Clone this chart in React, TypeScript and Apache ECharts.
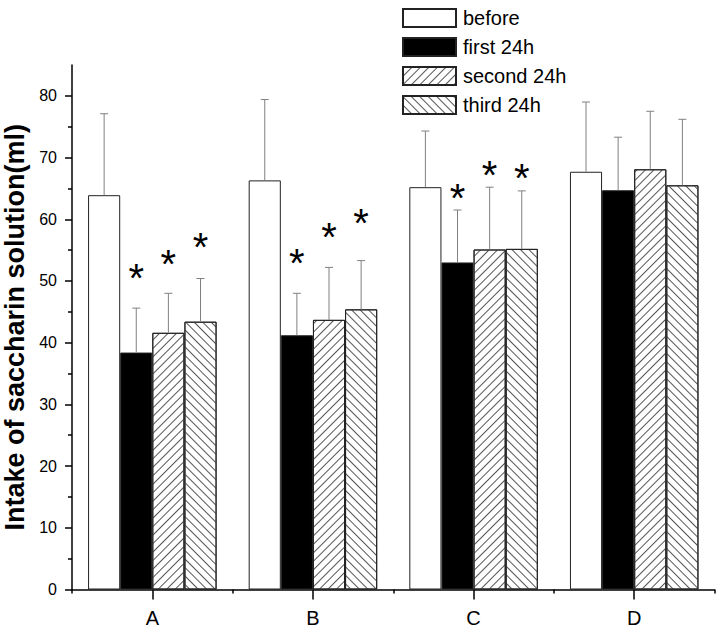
import React, { useEffect, useRef } from 'react';
import * as echarts from 'echarts';

const categories = ['A', 'B', 'C', 'D'];
const seriesNames = ['before', 'first 24h', 'second 24h', 'third 24h'];
const beforeVals = [63.9, 66.3, 65.2, 67.7];
const beforeErr = [13.2, 13.1, 9.1, 11.3];
const firstVals = [38.4, 41.2, 53.0, 64.7];
const firstErr = [7.2, 6.8, 8.5, 8.6];
const secondVals = [41.6, 43.7, 55.1, 68.1];
const secondErr = [6.4, 8.5, 10.1, 9.4];
const thirdVals = [43.4, 45.4, 55.2, 65.5];
const thirdErr = [7.0, 7.9, 9.4, 10.7];
// star (significance mark) centre values, null = no mark
const starFirst = [51.4, 53.8, 64.3, null];
const starSecond = [53.7, 58.0, 68.0, null];
const starThird = [56.3, 60.3, 67.6, null];
const yTickValues = [0, 10, 20, 30, 40, 50, 60, 70, 80];
const yMinorTickValues = [5, 15, 25, 35, 45, 55, 65, 75];

const FONT = "'Liberation Sans', Arial, sans-serif";

export default function App() {
  const ref = useRef<HTMLDivElement>(null);
  useEffect(() => {
    if (!ref.current) return;
    const chart = echarts.init(ref.current, null, { renderer: 'svg' });
    const vals = [beforeVals, firstVals, secondVals, thirdVals];
    const errs = [beforeErr, firstErr, secondErr, thirdErr];
    const stars = [null, starFirst, starSecond, starThird];
    const nSeries = 4;
    const catGap = 0.2;

    const barStyle = (i: number): any => {
      const base: any = { borderColor: '#222', borderWidth: 1 };
      if (i === 0) return { ...base, color: '#fff' };
      if (i === 1) return { ...base, color: '#000' };
      return {
        ...base,
        color: '#fff',
        decal: {
          symbol: 'rect',
          symbolSize: 1,
          dashArrayX: [1, 0],
          dashArrayY: [1, 5],
          rotation: i === 2 ? -Math.PI / 4 : Math.PI / 4,
          color: '#555',
          backgroundColor: '#fff',
        },
      };
    };

    const barSeries = seriesNames.map((name, i) => ({
      name,
      type: 'bar',
      xAxisIndex: 0,
      yAxisIndex: 0,
      data: vals[i],
      barGap: '0%',
      barCategoryGap: '20%',
      itemStyle: barStyle(i),
      emphasis: { disabled: true },
      z: 2,
    }));

    const errSeries = seriesNames.map((name, i) => ({
      name: name + '-err',
      type: 'custom',
      xAxisIndex: 0,
      yAxisIndex: 0,
      data: categories.map((_, j) => [j, vals[i][j], errs[i][j]]),
      z: 3,
      silent: true,
      renderItem: (params: any, api: any) => {
        const cat = api.value(0);
        const v = api.value(1);
        const e = api.value(2);
        const bandW = api.size([1, 0])[0];
        const barW = (bandW * (1 - catGap)) / nSeries;
        const p0 = api.coord([cat, v]);
        const p1 = api.coord([cat, v + e]);
        const cx = p0[0] + (i - (nSeries - 1) / 2) * barW;
        const st = { stroke: '#808080', lineWidth: 1 };
        return {
          type: 'group',
          children: [
            { type: 'line', shape: { x1: cx, y1: p0[1], x2: cx, y2: p1[1] }, style: st },
            { type: 'line', shape: { x1: cx - 4, y1: p1[1], x2: cx + 4, y2: p1[1] }, style: st },
          ],
        };
      },
    }));

    const starData: any[] = [];
    stars.forEach((arr, i) => {
      if (!arr) return;
      arr.forEach((v, j) => {
        if (v !== null) starData.push([j, v, i]);
      });
    });

    const starSeries = {
      name: 'stars',
      type: 'custom',
      xAxisIndex: 0,
      yAxisIndex: 0,
      data: starData,
      z: 4,
      silent: true,
      renderItem: (params: any, api: any) => {
        const cat = api.value(0);
        const v = api.value(1);
        const i = api.value(2);
        const bandW = api.size([1, 0])[0];
        const barW = (bandW * (1 - catGap)) / nSeries;
        const p = api.coord([cat, v]);
        const cx = p[0] + (i - (nSeries - 1) / 2) * barW;
        const fs = 40;
        return {
          type: 'text',
          x: cx,
          y: p[1] + fs * 0.135,
          style: {
            text: '*',
            fontSize: fs,
            fontFamily: FONT,
            fill: '#000',
            align: 'center',
            verticalAlign: 'middle',
          },
        };
      },
    };

    chart.setOption({
      animation: false,
      backgroundColor: '#fff',
      textStyle: { fontFamily: FONT },
      grid: { left: 72, right: 7.5, top: 65, bottom: 38.5, containLabel: false, outerBoundsMode: 'none' },
      legend: {
        data: seriesNames,
        orient: 'vertical',
        left: 402,
        top: 8,
        padding: 0,
        icon: 'rect',
        itemWidth: 53,
        itemHeight: 18,
        itemGap: 9,
        selectedMode: false,
        textStyle: { fontSize: 20, color: '#000', fontFamily: FONT, padding: [0, 0, 0, 2] },
      },
      xAxis: [
        {
          type: 'category',
          data: categories,
          position: 'bottom',
          axisLine: { show: true, lineStyle: { color: '#000', width: 1.5 } },
          axisTick: { show: true, alignWithLabel: true, length: 10, lineStyle: { color: '#000', width: 1.5 } },
          axisLabel: { fontSize: 20, color: '#000', margin: 18, fontFamily: FONT },
          splitLine: { show: false },
        },
        {
          type: 'category',
          data: categories,
          position: 'bottom',
          axisLine: { show: false },
          axisTick: { show: true, length: 4, lineStyle: { color: '#000', width: 1.5 } },
          axisLabel: { show: false },
          splitLine: { show: false },
        },
      ],
      yAxis: [
        {
          type: 'value',
          min: 0,
          max: 85,
          interval: 10,
          position: 'left',
          name: 'Intake of saccharin solution(ml)',
          nameLocation: 'middle',
          nameGap: 43,
          nameTextStyle: { fontSize: 27, fontWeight: 'bold', color: '#000', fontFamily: FONT },
          axisLine: { show: true, lineStyle: { color: '#000', width: 1.5 } },
          axisTick: { show: true, length: 7, customValues: yTickValues, lineStyle: { color: '#000', width: 1.5 } },
          axisLabel: { fontSize: 16, color: '#000', margin: 15, customValues: yTickValues, fontFamily: FONT },
          splitLine: { show: false },
        },
        {
          type: 'value',
          min: 0,
          max: 85,
          interval: 5,
          position: 'left',
          axisLine: { show: false },
          axisTick: { show: true, length: 4, customValues: yMinorTickValues, lineStyle: { color: '#000', width: 1.5 } },
          axisLabel: { show: false },
          splitLine: { show: false },
        },
      ],
      series: [...barSeries, ...errSeries, starSeries],
    } as any);
    return () => chart.dispose();
  }, []);
  return (
    <div
      ref={ref}
      style={{ position: 'fixed', left: 0, top: 0, width: 722, height: 628, background: '#fff' }}
    />
  );
}
